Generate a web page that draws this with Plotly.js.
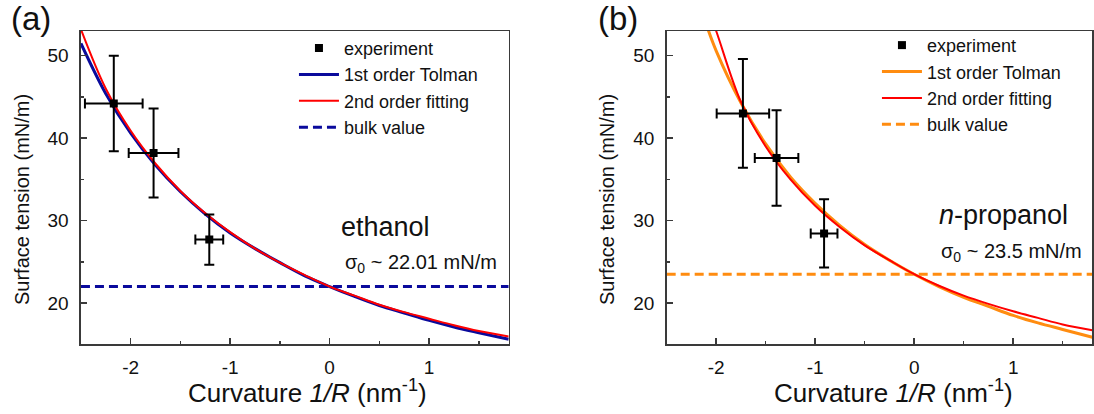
<!DOCTYPE html>
<html>
<head>
<meta charset="utf-8">
<script src="https://cdn.plot.ly/plotly-3.0.1.min.js"></script>
<style>html,body{margin:0;padding:0;background:#fff;}#chart{width:1094px;height:414px;}</style>
</head>
<body>
<div id="chart"></div>
<script>
// ---- data ----
// (a) ethanol
const ethExpX = [-2.17, -1.77, -1.21];
const ethExpY = [44.2, 38.2, 27.7];
const ethExpXErr = [0.29, 0.25, 0.14];
const ethExpYErr = [5.8, 5.4, 3.05];
const ethFitX = [-2.5, -2.25, -2.0, -1.75, -1.5, -1.25, -1.0, -0.75, -0.5, -0.25, 0, 0.25, 0.5, 0.75, 1.0, 1.25, 1.5, 1.8];
const ethTolman = [51.5, 45.4, 40.6, 36.7, 33.5, 30.8, 28.5, 26.6, 24.9, 23.3, 22.0, 20.8, 19.7, 18.8, 17.9, 17.1, 16.4, 15.6];
const ethSecond = [53.2, 46.0, 40.9, 36.9, 33.6, 30.9, 28.6, 26.6, 24.9, 23.4, 22.0, 20.9, 19.8, 18.9, 18.1, 17.3, 16.6, 15.95];
const ethBulkX = [-2.5, 1.8];
const ethBulk = [22.01, 22.01];

// (b) n-propanol
const propExpX = [-1.73, -1.39, -0.91];
const propExpY = [43.0, 37.6, 28.45];
const propExpXErr = [0.265, 0.22, 0.135];
const propExpYErr = [6.6, 5.8, 4.15];
const propFitX = [-2.1, -2.0, -1.75, -1.5, -1.25, -1.0, -0.75, -0.5, -0.25, 0, 0.25, 0.5, 0.75, 1.0, 1.25, 1.5, 1.8];
const propTolman = [53.8, 50.6, 44.3, 39.3, 35.3, 32.1, 29.4, 27.1, 25.2, 23.5, 22.0, 20.7, 19.6, 18.5, 17.6, 16.8, 15.85];
const propSecond = [56.3, 53.0, 44.4, 39.0, 35.0, 31.8, 29.2, 27.0, 25.2, 23.5, 22.1, 20.9, 19.9, 19.0, 18.2, 17.4, 16.7];
const propBulkX = [-2.5, 1.8];
const propBulk = [23.5, 23.5];

// ticks
const xTickVals = [-2, -1, 0, 1];
const xTickText = ['-2', '-1', '0', '1'];
const yTickVals = [20, 30, 40, 50];
const yTickText = ['20', '30', '40', '50'];

// texts
const legendNames = ['experiment', '1st order Tolman', '2nd order fitting', 'bulk value'];
const xTitle = 'Curvature <i>1/R</i> (nm<sup>-1</sup>)';
const yTitle = 'Surface tension (mN/m)';

const FONT = 'Liberation Sans, Arial, Helvetica, sans-serif';
const BLUE = '#0a0a9c';
const RED = '#ff0000';
const ORANGE = '#ff8c10';
const AX = '#3a3a3a';
const TXT = '#111';

function errPts(xs, ys, xe, ye, legend) {
  return {
    x: xs, y: ys, xaxis: legend === 'legend' ? 'x' : 'x2', yaxis: legend === 'legend' ? 'y' : 'y2',
    mode: 'markers', type: 'scatter', name: legendNames[0], legend: legend, legendrank: 1,
    marker: {symbol: 'square', size: 8, color: '#000'},
    error_x: {type: 'data', array: xe, visible: true, color: '#000', thickness: 2, width: 5},
    error_y: {type: 'data', array: ye, visible: true, color: '#000', thickness: 2, width: 5}
  };
}
function line(xs, ys, name, color, width, dash, legend, rank) {
  return {
    x: xs, y: ys, xaxis: legend === 'legend' ? 'x' : 'x2', yaxis: legend === 'legend' ? 'y' : 'y2',
    mode: 'lines', type: 'scatter', name: name, legend: legend, legendrank: rank,
    line: {color: color, width: width, dash: dash || 'solid', shape: dash ? 'linear' : 'spline', smoothing: 1}
  };
}

const traces = [
  line(ethBulkX, ethBulk, legendNames[3], BLUE, 3, '9px,5px', 'legend', 4),
  line(ethFitX, ethTolman, legendNames[1], BLUE, 3, null, 'legend', 2),
  line(ethFitX, ethSecond, legendNames[2], RED, 2, null, 'legend', 3),
  errPts(ethExpX, ethExpY, ethExpXErr, ethExpYErr, 'legend'),
  line(propBulkX, propBulk, legendNames[3], ORANGE, 3, '9px,5px', 'legend2', 4),
  line(propFitX, propTolman, legendNames[1], ORANGE, 3, null, 'legend2', 2),
  line(propFitX, propSecond, legendNames[2], RED, 2, null, 'legend2', 3),
  errPts(propExpX, propExpY, propExpXErr, propExpYErr, 'legend2')
];

function xaxis(domain, anchor) {
  return {
    domain: domain, range: [-2.5, 1.8], anchor: anchor,
    showgrid: false, zeroline: false, showline: true, mirror: true,
    linecolor: AX, linewidth: 1.5,
    ticks: 'inside', ticklen: 6, tickwidth: 1.5, tickcolor: AX,
    tickvals: xTickVals, ticktext: xTickText, ticklabelstandoff: 5,
    minor: {ticks: 'inside', ticklen: 3, tickwidth: 1.5, tickcolor: AX, tickvals: [-2.5, -1.5, -0.5, 0.5, 1.5]},
    tickfont: {family: FONT, size: 19, color: TXT}
  };
}
function yaxis(anchor) {
  return {
    domain: [0.1684, 0.9251], range: [15, 53], anchor: anchor,
    showgrid: false, zeroline: false, showline: true, mirror: true,
    linecolor: AX, linewidth: 1.5,
    ticks: 'inside', ticklen: 6, tickwidth: 1.5, tickcolor: AX,
    tickvals: yTickVals, ticktext: yTickText, ticklabelstandoff: 7,
    minor: {ticks: 'inside', ticklen: 3, tickwidth: 1.5, tickcolor: AX, tickvals: [25, 35, 45]},
    tickfont: {family: FONT, size: 19, color: TXT}
  };
}

const legendStyle = {
  bgcolor: 'rgba(0,0,0,0)', borderwidth: 0,
  font: {family: FONT, size: 18, color: TXT},
  xanchor: 'left', yanchor: 'top', tracegroupgap: 0, itemwidth: 40
};

function ann(px, py, text, size, angle) {
  return {xref: 'paper', yref: 'paper', x: px / 1094, y: 1 - py / 414, text: text, showarrow: false,
    textangle: angle || 0, font: {family: FONT, size: size, color: TXT}, xanchor: 'center', yanchor: 'middle'};
}

const layout = {
  width: 1094, height: 414,
  margin: {l: 0, r: 0, t: 0, b: 0},
  paper_bgcolor: '#fff', plot_bgcolor: '#fff',
  showlegend: true,
  xaxis: xaxis([0.074, 0.465], 'y'),
  yaxis: yaxis('x'),
  xaxis2: xaxis([0.6094, 0.9985], 'y2'),
  yaxis2: yaxis('x2'),
  legend: Object.assign({x: 0.2687, y: 0.928}, legendStyle),
  legend2: Object.assign({x: 0.8016, y: 0.935}, legendStyle),
  annotations: [
    ann(31, 19, '(a)', 33),
    ann(618, 19, '(b)', 33),
    ann(307, 391, xTitle, 26),
    ann(893, 391, xTitle, 26),
    ann(22, 200, yTitle, 20, -90),
    ann(607, 200, yTitle, 20, -90),
    ann(385, 227, 'ethanol', 27),
    ann(421, 263, 'σ<sub>0</sub> ~ 22.01 mN/m', 20),
    ann(1003, 215, '<i>n</i>-propanol', 27),
    ann(1011, 252, 'σ<sub>0</sub> ~ 23.5 mN/m', 20)
  ]
};

Plotly.newPlot('chart', traces, layout, {displayModeBar: false, staticPlot: true});
</script>
</body>
</html>
